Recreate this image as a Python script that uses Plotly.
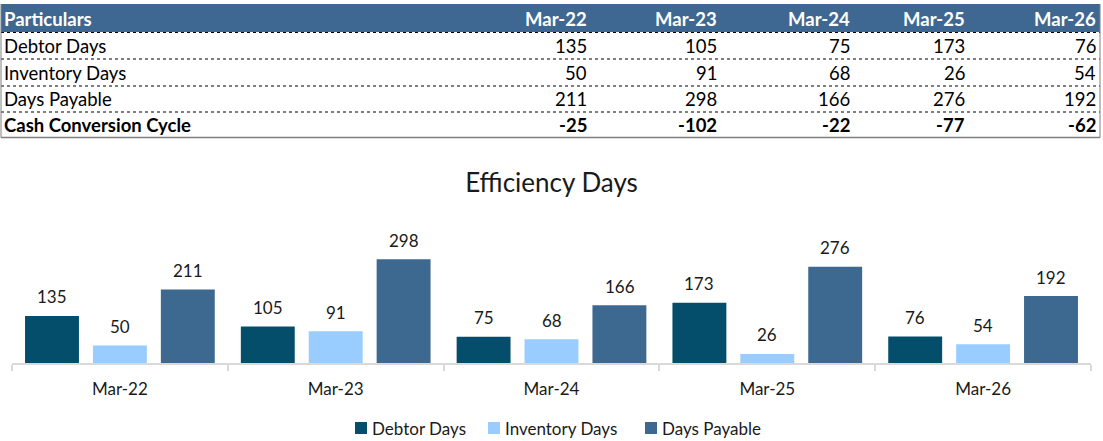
import plotly.graph_objects as go

periods = ["Mar-22", "Mar-23", "Mar-24", "Mar-25", "Mar-26"]
debtor_days = [135, 105, 75, 173, 76]
inventory_days = [50, 91, 68, 26, 54]
days_payable = [211, 298, 166, 276, 192]
cash_conversion_cycle = [-25, -102, -22, -77, -62]
row_labels = ["Debtor Days", "Inventory Days", "Days Payable", "Cash Conversion Cycle"]
series_names = ["Debtor Days", "Inventory Days", "Days Payable"]
colors = ["#044E6C", "#99CCFF", "#3D6890"]

W, H = 1103, 441
FONT = "Lato"

def px_x(x):
    return x / W

def px_y(y):
    return 1 - y / H

fig = go.Figure()
series = [debtor_days, inventory_days, days_payable]
for name, vals, col in zip(series_names, series, colors):
    fig.add_trace(go.Bar(x=periods, y=vals, name=name, marker_color=col,
                         marker_line_width=0, showlegend=False))

annotations = []
# data labels
for i, vals in enumerate(series):
    for p, v in zip(periods, vals):
        annotations.append(dict(x=p, y=v, xref="x", yref="y", text=str(v),
                                showarrow=False, xanchor="center", yanchor="middle",
                                xshift=(i - 1) * 68, yshift=19,
                                font=dict(family=FONT, size=17, color="#1a1a1a")))

shapes = []
# table header
shapes.append(dict(type="rect", xref="paper", yref="paper",
                   x0=px_x(1), x1=px_x(1100), y0=px_y(32), y1=px_y(4),
                   fillcolor="#3E6891", line_width=0, layer="below"))
# row separators (dotted)
for yy in [32.5, 59, 86, 112]:
    shapes.append(dict(type="line", xref="paper", yref="paper",
                       x0=px_x(1), x1=px_x(1100), y0=px_y(yy), y1=px_y(yy),
                       line=dict(color="#000000", width=1.2, dash="dot")))
# outer borders
shapes.append(dict(type="line", xref="paper", yref="paper",
                   x0=px_x(1), x1=px_x(1100), y0=px_y(137.5), y1=px_y(137.5),
                   line=dict(color="#7f7f7f", width=1.5)))
for xx in [1, 1100]:
    shapes.append(dict(type="line", xref="paper", yref="paper",
                       x0=px_x(xx), x1=px_x(xx), y0=px_y(4), y1=px_y(137.5),
                       line=dict(color="#7f7f7f", width=1)))

col_right = [589, 719, 852, 967, 1098]
row_centers = [46, 72.5, 99, 125]
TF = 18.5
# header texts
annotations.append(dict(x=px_x(2), y=px_y(18.5), xref="paper", yref="paper",
                        text="<b>Particulars</b>", showarrow=False, xanchor="left",
                        yanchor="middle", font=dict(family=FONT, size=TF, color="white")))
for p, xr in zip(periods, col_right):
    annotations.append(dict(x=px_x(xr), y=px_y(18.5), xref="paper", yref="paper",
                            text="<b>%s</b>" % p, showarrow=False, xanchor="right",
                            yanchor="middle", font=dict(family=FONT, size=TF, color="white")))
table_rows = [debtor_days, inventory_days, days_payable, cash_conversion_cycle]
for r, (lab, vals, yc) in enumerate(zip(row_labels, table_rows, row_centers)):
    bold = r == 3
    t = "<b>%s</b>" % lab if bold else lab
    annotations.append(dict(x=px_x(2), y=px_y(yc), xref="paper", yref="paper",
                            text=t, showarrow=False, xanchor="left", yanchor="middle",
                            font=dict(family=FONT, size=TF, color="black")))
    for v, xr in zip(vals, col_right):
        s = str(v)
        s = "<b>%s</b>" % s if bold else s
        annotations.append(dict(x=px_x(xr), y=px_y(yc), xref="paper", yref="paper",
                                text=s, showarrow=False, xanchor="right", yanchor="middle",
                                font=dict(family=FONT, size=TF, color="black")))

# manual legend
legend_sq_x = [355, 488, 645]
LY = 428
for name, col, sx in zip(series_names, colors, legend_sq_x):
    shapes.append(dict(type="rect", xref="paper", yref="paper",
                       x0=px_x(sx), x1=px_x(sx + 12), y0=px_y(LY + 6), y1=px_y(LY - 6),
                       fillcolor=col, line_width=0))
    annotations.append(dict(x=px_x(sx + 15), y=px_y(LY), xref="paper", yref="paper",
                            text=name, showarrow=False, xanchor="left", yanchor="middle",
                            font=dict(family=FONT, size=17, color="#1a1a1a")))

fig.update_layout(
    width=W, height=H,
    margin=dict(l=0, r=0, t=0, b=0),
    paper_bgcolor="white", plot_bgcolor="white",
    barmode="group", bargap=0.056, bargroupgap=0.206,
    title=dict(text="Efficiency Days", x=0.5, xanchor="center",
               y=px_y(183), yanchor="middle", yref="paper",
               font=dict(family=FONT, size=26, color="#1a1a1a")),
    xaxis=dict(domain=[px_x(12), px_x(1091)], showline=True, linecolor="#D9D9D9",
               linewidth=2, ticks="outside", tickson="boundaries", ticklen=6,
               tickcolor="#D9D9D9", tickwidth=2, ticklabelstandoff=10,
               tickfont=dict(family=FONT, size=17, color="#1a1a1a"), showgrid=False),
    yaxis=dict(domain=[px_y(363), px_y(241)], range=[0, 350], visible=False,
               showgrid=False, zeroline=False),
    showlegend=False,
    shapes=shapes, annotations=annotations,
)

fig.write_html("out.html", config={"displayModeBar": False},
               post_script="document.body.style.margin='0';document.body.style.padding='0';")
